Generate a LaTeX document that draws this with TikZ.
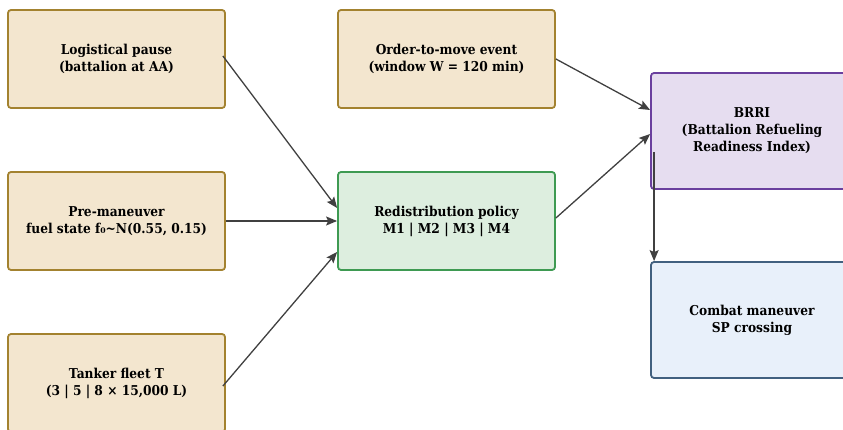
\documentclass[tikz,border=0pt]{standalone}
\usepackage{fontspec}
\setmainfont{DejaVu Serif Condensed}
\usetikzlibrary{arrows.meta}
\definecolor{tanfill}{HTML}{F3E6CF}
\definecolor{tanline}{HTML}{A3822F}
\definecolor{grfill}{HTML}{DDEEDF}
\definecolor{grline}{HTML}{3E9A52}
\definecolor{pufill}{HTML}{E6DDF0}
\definecolor{puline}{HTML}{6A3F9E}
\definecolor{blfill}{HTML}{E8F0FA}
\definecolor{blline}{HTML}{41607F}
\definecolor{arr}{HTML}{404040}
\tikzset{
  box/.style={rectangle, rounded corners=3pt, line width=1.8pt, align=center,
    font=\bfseries\fontsize{13.6}{17}\selectfont, inner sep=0pt},
  tanbox/.style={box, fill=tanfill, draw=tanline, minimum width=217pt, minimum height=98pt},
  grbox/.style={box, fill=grfill, draw=grline, minimum width=217pt, minimum height=98pt},
  pubox/.style={box, fill=pufill, draw=puline, minimum width=202pt, minimum height=116pt},
  blbox/.style={box, fill=blfill, draw=blline, minimum width=202pt, minimum height=116pt},
  conn/.style={draw=arr, line width=1.3pt, -{Stealth[length=11pt,width=9pt,inset=2pt]}}
}
\begin{document}
\begin{tikzpicture}[x=1pt,y=-1pt]
\useasboundingbox (0,0) rectangle (843,430);
\node[tanbox] (A) at (116.5,59) {Logistical pause\\(battalion at AA)};
\node[tanbox] (B) at (116.5,221) {Pre-maneuver\\fuel state f₀\textasciitilde N(0.55, 0.15)};
\node[tanbox] (C) at (116.5,383) {Tanker fleet T\\(3 | 5 | 8 × 15,000 L)};
\node[tanbox] (D) at (446.5,59) {Order-to-move event\\(window W = 120 min)};
\node[grbox] (E) at (446.5,221) {Redistribution policy\\M1 | M2 | M3 | M4};
\node[pubox] (F) at (752,131) {BRRI\\(Battalion Refueling\\Readiness Index)};
\node[blbox] (G) at (752,320) {Combat maneuver\\SP crossing};
\coordinate (Fs) at ([xshift=4pt,yshift=-21pt]F.west);
\draw[conn] ([xshift=-3pt,yshift=3pt]A.east) -- ([yshift=13pt]E.west);
\draw[conn] (B.east) -- (E.west);
\draw[conn] ([xshift=-3pt,yshift=-3pt]C.east) -- ([yshift=-31pt]E.west);
\draw[conn] (D.east) -- ([yshift=21pt]F.west);
\draw[conn] ([yshift=3pt]E.east) -- ([yshift=-3pt]F.west);
\draw[conn] (Fs) -- (Fs |- G.north);
\end{tikzpicture}
\end{document}
